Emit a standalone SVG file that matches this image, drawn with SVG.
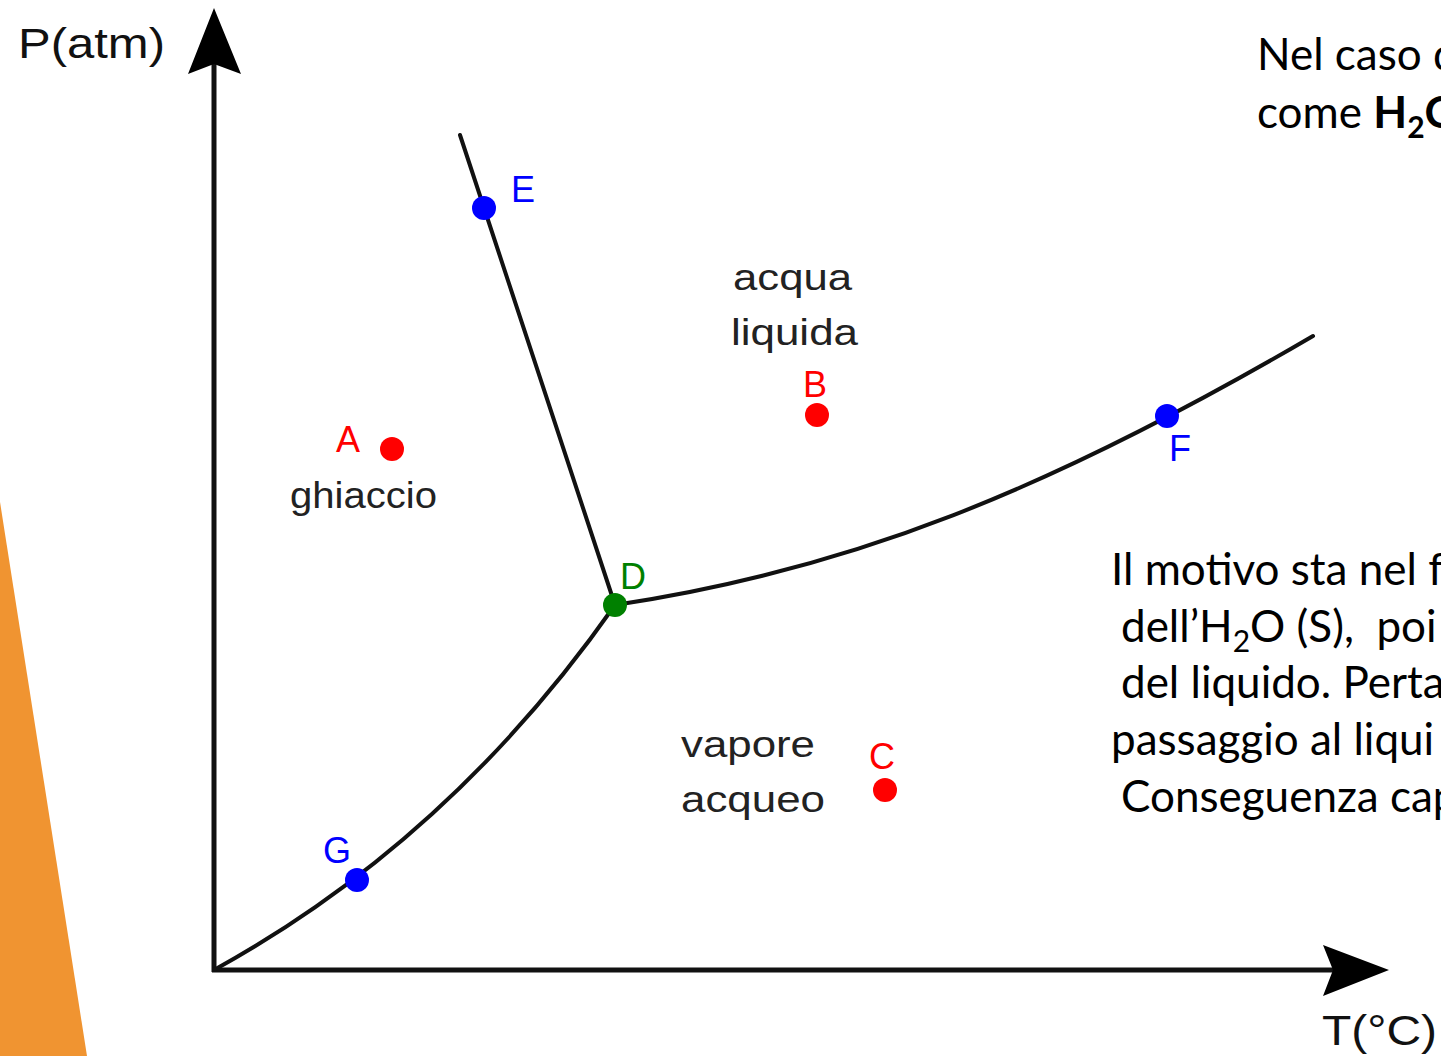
<svg xmlns="http://www.w3.org/2000/svg" width="1441" height="1056" viewBox="0 0 1441 1056">
<style>
.ax{font-family:"Liberation Sans",Arial,sans-serif;font-size:43px;fill:#111}
.reg{font-family:"Liberation Sans",Arial,sans-serif;font-size:37px;fill:#222}
.pl{font-family:"Liberation Sans",Arial,sans-serif;font-size:36px}
.cur{fill:none;stroke:#111;stroke-width:4;stroke-linecap:round}
.axis{fill:none;stroke:#111;stroke-width:5}
.txt{font-family:Lato,"Open Sans",sans-serif;font-size:44px;fill:#000;white-space:pre}
.red{fill:#ff0000}.blue{fill:#0000ff}.green{fill:#008000}
</style>
<rect width="1441" height="1056" fill="#fff"/>
<polygon points="0,502 87,1056 0,1056" fill="#f09431"/>
<g id="axes">
<line class="axis" x1="214" y1="972" x2="214" y2="60"/>
<line class="axis" x1="212" y1="970" x2="1340" y2="970"/>
<path d="M214,8 L241,74 L214,64 L188,74 Z" fill="#000"/>
<path d="M1389,970 L1323,945 L1333,970 L1323,996 Z" fill="#000"/>
<text class="ax" x="18" y="58" textLength="147" lengthAdjust="spacingAndGlyphs">P(atm)</text>
<text class="ax" x="1322" y="1045" textLength="115" lengthAdjust="spacingAndGlyphs">T(°C)</text>
</g>
<g id="connectors">
<path class="cur" d="M460,135 L615,605"/>
<path class="cur" d="M615,605 C850,570 1050,490 1313,336"/>
<path class="cur" d="M214,970 Q450,840 615,605"/>
</g>
<g id="node-E"><circle class="blue" cx="484" cy="208" r="12"/><text class="pl blue" x="511" y="202">E</text></g>
<g id="node-B"><circle class="red" cx="817" cy="415" r="12"/><text class="pl red" x="803" y="397">B</text></g>
<g id="node-A"><circle class="red" cx="392" cy="449" r="12"/><text class="pl red" x="336" y="452">A</text></g>
<g id="node-F"><circle class="blue" cx="1167" cy="416" r="12"/><text class="pl blue" x="1169" y="461">F</text></g>
<g id="node-D"><circle class="green" cx="615" cy="605" r="12"/><text class="pl green" x="620" y="589">D</text></g>
<g id="node-C"><circle class="red" cx="885" cy="790" r="12"/><text class="pl red" x="869" y="769">C</text></g>
<g id="node-G"><circle class="blue" cx="357" cy="880" r="12"/><text class="pl blue" x="323" y="863">G</text></g>
<g id="regions">
<text class="reg" x="733" y="290" textLength="119" lengthAdjust="spacingAndGlyphs">acqua</text>
<text class="reg" x="731" y="345" textLength="127" lengthAdjust="spacingAndGlyphs">liquida</text>
<text class="reg" x="290" y="508" textLength="147" lengthAdjust="spacingAndGlyphs">ghiaccio</text>
<text class="reg" x="681" y="757" textLength="134" lengthAdjust="spacingAndGlyphs">vapore</text>
<text class="reg" x="681" y="812" textLength="144" lengthAdjust="spacingAndGlyphs">acqueo</text>
</g>
<g id="notes">
<text class="txt" x="1257" y="70">Nel caso d</text>
<text class="txt" x="1257" y="128">come <tspan font-weight="bold">H</tspan><tspan font-weight="bold" font-size="30" dy="10">2</tspan><tspan font-weight="bold" dy="-10">O</tspan></text>
<text class="txt" x="1111" y="585">Il motivo sta nel f</text>
<text class="txt" x="1121" y="642">dell’H<tspan font-size="30" dy="10">2</tspan><tspan dy="-10">O (S),  poi</tspan></text>
<text class="txt" x="1121" y="698">del liquido. Perta</text>
<text class="txt" x="1111" y="755">passaggio al liqui</text>
<text class="txt" x="1121" y="812">Conseguenza cap</text>
</g>
</svg>
